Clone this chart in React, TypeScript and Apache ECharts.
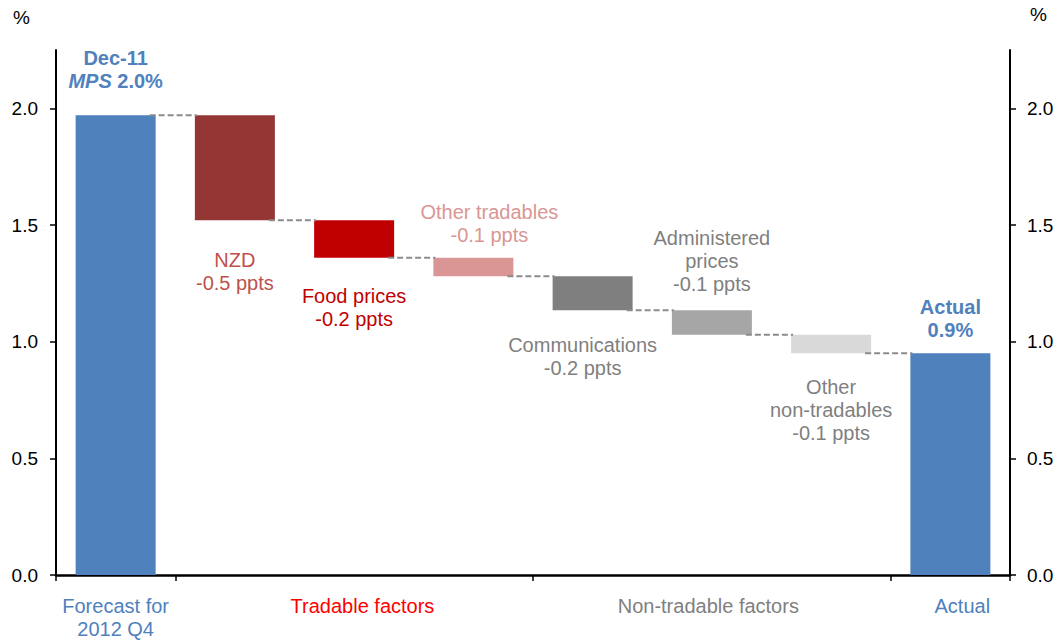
import React, { useEffect, useRef } from "react";
import * as echarts from "echarts";

// ---- data ----
const categories = [
  "Forecast for 2012 Q4",
  "NZD",
  "Food prices",
  "Other tradables",
  "Communications",
  "Administered prices",
  "Other non-tradables",
  "Actual",
];
const forecastValue = 1.97;
const contributions = [-0.45, -0.16, -0.08, -0.145, -0.105, -0.08];
const actualValue = 0.95;

const barLabels = [
  "{b|Dec-11}\n{bi|MPS}{b| 2.0%}",
  "NZD\n-0.5 ppts",
  "Food prices\n-0.2 ppts",
  "Other tradables\n-0.1 ppts",
  "Communications\n-0.2 ppts",
  "Administered\nprices\n-0.1 ppts",
  "Other\nnon-tradables\n-0.1 ppts",
  "{b|Actual}\n{b|0.9%}",
];

const groupLabels = ["Forecast for\n2012 Q4", "Tradable factors", "Non-tradable factors", "Actual"];
const yTicks = [0, 0.5, 1.0, 1.5, 2.0];

// ---- styles ----
const barColors = ["#4F81BD", "#943634", "#C00000", "#D99694", "#7F7F7F", "#A6A6A6", "#D9D9D9", "#4F81BD"];
const labelColors = ["#4F81BD", "#C0504D", "#C00000", "#D99694", "#7F7F7F", "#7F7F7F", "#7F7F7F", "#4F81BD"];
const labelLayout = [
  { position: "top", distance: 23, offset: [0, 0] },
  { position: "bottom", distance: 28, offset: [0, 0] },
  { position: "bottom", distance: 27, offset: [0, 0] },
  { position: "top", distance: 11, offset: [16, 0] },
  { position: "bottom", distance: 23, offset: [-10, 0] },
  { position: "top", distance: 15, offset: [0, 0] },
  { position: "bottom", distance: 22, offset: [0, 0] },
  { position: "top", distance: 12, offset: [0, 0] },
];
const groupLabelPos = [0.5, 2.57, 5.47, 7.6];
const groupLabelStyle = ["blue", "red", "gray", "blue"];

const FONT = "'Liberation Sans', Arial, Helvetica, sans-serif";

export default function App() {
  const ref = useRef<HTMLDivElement>(null);

  useEffect(() => {
    document.body.style.margin = "0";
    if (!ref.current) return;
    const chart = echarts.init(ref.current, undefined, { renderer: "svg" });

    // waterfall levels
    const levels: number[] = [forecastValue];
    contributions.forEach((c) => levels.push(levels[levels.length - 1] + c));
    const baseData: number[] = [0];
    const heightData: number[] = [forecastValue];
    contributions.forEach((c, i) => {
      const a = levels[i];
      const b = levels[i + 1];
      baseData.push(Math.min(a, b));
      heightData.push(Math.abs(b - a));
    });
    baseData.push(0);
    heightData.push(actualValue);
    const connectorLevels = levels.slice(); // level after each bar 0..6

    const barHalf = 40;

    const deltaData = heightData.map((v, i) => ({
      value: v,
      itemStyle: { color: barColors[i] },
      label: {
        show: true,
        position: labelLayout[i].position,
        distance: labelLayout[i].distance,
        offset: labelLayout[i].offset,
        formatter: barLabels[i],
        color: labelColors[i],
        fontSize: 20,
        lineHeight: 23,
        fontFamily: FONT,
        align: "center",
        rich: {
          b: { fontWeight: "bold", fontSize: 20, lineHeight: 23, color: labelColors[i], fontFamily: FONT },
          bi: {
            fontWeight: "bold",
            fontStyle: "italic",
            fontSize: 20,
            lineHeight: 23,
            color: labelColors[i],
            fontFamily: FONT,
          },
        },
      },
    }));

    const richGroup = {
      blue: { color: "#4F81BD", fontSize: 20, lineHeight: 23, fontFamily: FONT },
      red: { color: "#FF0000", fontSize: 20, lineHeight: 23, fontFamily: FONT },
      gray: { color: "#808080", fontSize: 20, lineHeight: 23, fontFamily: FONT },
    };

    const yAxisCommon = {
      type: "value",
      min: 0,
      max: 2.25,
      interval: 0.5,
      splitLine: { show: false },
      axisLine: { show: true, lineStyle: { color: "#000", width: 2 } },
      axisTick: {
        show: true,
        inside: false,
        length: 6,
        lineStyle: { color: "#000", width: 1.5 },
        customValues: yTicks,
      },
      axisLabel: {
        customValues: yTicks,
        formatter: (v: number) => v.toFixed(1),
        color: "#000",
        fontSize: 19,
        fontFamily: FONT,
      },
    };

    chart.setOption({
      animation: false,
      backgroundColor: "#fff",
      textStyle: { fontFamily: FONT },
      grid: { left: 56, right: 53, top: 50, bottom: 69, containLabel: false },
      xAxis: [
        {
          type: "category",
          data: categories,
          position: "bottom",
          axisLine: { show: true, onZero: false, lineStyle: { color: "#000", width: 2.5 } },
          axisTick: { show: false },
          axisLabel: { show: false },
          splitLine: { show: false },
        },
        {
          type: "value",
          min: 0,
          max: categories.length,
          position: "bottom",
          axisLine: { show: false },
          splitLine: { show: false },
          axisTick: {
            show: true,
            inside: false,
            length: 6,
            lineStyle: { color: "#000", width: 1.5 },
            customValues: [0, 1, 4, 7, 8],
          },
          axisLabel: {
            show: true,
            customValues: groupLabelPos,
            margin: 19,
            formatter: (v: number) => {
              let idx = 0;
              let best = Infinity;
              groupLabelPos.forEach((p, i) => {
                if (Math.abs(p - v) < best) {
                  best = Math.abs(p - v);
                  idx = i;
                }
              });
              const st = groupLabelStyle[idx];
              return groupLabels[idx]
                .split("\n")
                .map((l) => `{${st}|${l}}`)
                .join("\n");
            },
            rich: richGroup,
          },
        },
      ],
      yAxis: [
        { ...yAxisCommon, position: "left", axisLabel: { ...yAxisCommon.axisLabel, margin: 18 } },
        { ...yAxisCommon, position: "right", axisLabel: { ...yAxisCommon.axisLabel, margin: 17 } },
      ],
      graphic: [
        { type: "text", left: 13, top: 8, style: { text: "%", fontSize: 19, fill: "#000", fontFamily: FONT } },
        { type: "text", left: 1030, top: 5, style: { text: "%", fontSize: 19, fill: "#000", fontFamily: FONT } },
      ],
      series: [
        {
          type: "bar",
          name: "base",
          stack: "w",
          xAxisIndex: 0,
          yAxisIndex: 0,
          barWidth: 80,
          itemStyle: { color: "transparent" },
          emphasis: { disabled: true },
          silent: true,
          data: baseData,
        },
        {
          type: "bar",
          name: "change",
          stack: "w",
          xAxisIndex: 0,
          yAxisIndex: 0,
          barWidth: 80,
          data: deltaData,
        },
        {
          type: "custom",
          name: "connectors",
          xAxisIndex: 0,
          yAxisIndex: 0,
          z: 5,
          silent: true,
          data: connectorLevels.map((v, i) => [i, v]),
          renderItem: (params: any, api: any) => {
            const p = api.coord([api.value(0), api.value(1)]);
            const band = api.size([1, 0])[0];
            return {
              type: "line",
              shape: { x1: p[0] + barHalf - 6, y1: p[1], x2: p[0] + band - barHalf + 2, y2: p[1] },
              style: { stroke: "#8C8C8C", lineWidth: 2, lineDash: [6, 3] },
            };
          },
        },
      ],
    });

    return () => chart.dispose();
  }, []);

  return <div ref={ref} style={{ width: 1063, height: 644 }} />;
}
